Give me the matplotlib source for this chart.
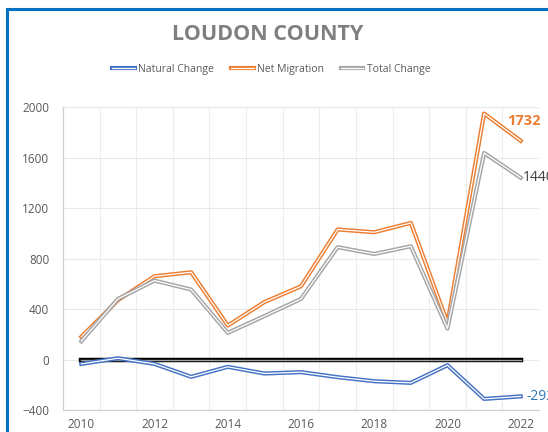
import matplotlib.pyplot as plt
import matplotlib.patheffects as pe
from matplotlib.patches import Rectangle

# data
years = [2010, 2011, 2012, 2013, 2014, 2015, 2016, 2017, 2018, 2019, 2020, 2021, 2022]
natural = [-35, 10, -35, -137, -58, -111, -100, -140, -172, -185, -45, -312, -292]
migration = [180, 470, 660, 691, 269, 455, 580, 1030, 1008, 1082, 290, 1948, 1732]
total = [145, 480, 625, 554, 211, 344, 480, 890, 836, 897, 245, 1636, 1440]
zero = [0] * len(years)
yticks = [-400, 0, 400, 800, 1200, 1600, 2000]
xticks = [2010, 2012, 2014, 2016, 2018, 2020, 2022]

plt.rcParams['font.family'] = ['Open Sans', 'DejaVu Sans']

fig = plt.figure(figsize=(5.48, 4.32), dpi=100)
ax = fig.add_axes([0.115, 0.0509, 0.8686, 0.7014])

# blue chart border (cropped)
fig.patches.append(Rectangle((7 / 548, -0.1), 1.2, 1 - 8.5 / 432 + 0.1, transform=fig.transFigure,
                             fill=False, edgecolor='#0070C0', linewidth=2.2))


def dbl(color, w=3.0):
    return [pe.Stroke(linewidth=w, foreground=color), pe.Normal()]


ax.plot(years, zero, color='#A0A0A0', lw=1.0, path_effects=dbl('black', 3.2), zorder=3)
ax.plot(years, natural, color='white', lw=0.9, path_effects=dbl('#4472C4'), label='Natural Change', zorder=4)
ax.plot(years, migration, color='white', lw=0.9, path_effects=dbl('#ED7D31'), label='Net Migration', zorder=4)
ax.plot(years, total, color='white', lw=0.9, path_effects=dbl('#A5A5A5'), label='Total Change', zorder=4)

ax.set_xlim(2009.5, 2022.5)
ax.set_ylim(-400, 2000)
ax.set_yticks(yticks)
ax.set_xticks(xticks)
ax.set_xticks([y + 0.5 for y in years[:-1]], minor=True)
ax.grid(axis='y', color='#E8E8E8', lw=0.8)
ax.grid(axis='x', which='minor', color='#EDEDED', lw=0.8)
ax.tick_params(which='both', length=0, labelsize=8.5, labelcolor='#595959')
ax.tick_params(axis='y', pad=10)
ax.tick_params(axis='x', pad=6)
for s in ['top', 'right']:
    ax.spines[s].set_visible(False)
for s in ['left', 'bottom']:
    ax.spines[s].set_color('#D0D0D0')
    ax.spines[s].set_linewidth(0.9)

# end labels
ax.annotate('1732', xy=(2022, 1732), xytext=(2022.1, 1890), color='#ED7D31', fontsize=10.5,
            fontweight='bold', ha='center', va='center', annotation_clip=False,
            arrowprops=dict(arrowstyle='-', color='#A5A5A5', lw=0.8, shrinkA=6, shrinkB=2))
ax.text(2022.05, 1440, '1440', color='#404040', fontsize=10, ha='left', va='center', clip_on=False)
ax.text(2022.15, -295, '-292', color='#2E75B6', fontsize=10, ha='left', va='center', clip_on=False)

fig.text(0.488, 0.921, 'LOUDON COUNTY', ha='center', va='center', fontsize=15.5,
         fontweight='bold', color='#7F7F7F')
fig.legend(loc='center', bbox_to_anchor=(0.495, 0.84), ncol=3, frameon=False, fontsize=7.5,
           handlelength=2.2, handletextpad=0.3, columnspacing=1.6, labelcolor='#595959')

fig.savefig('out.png', dpi=100)
